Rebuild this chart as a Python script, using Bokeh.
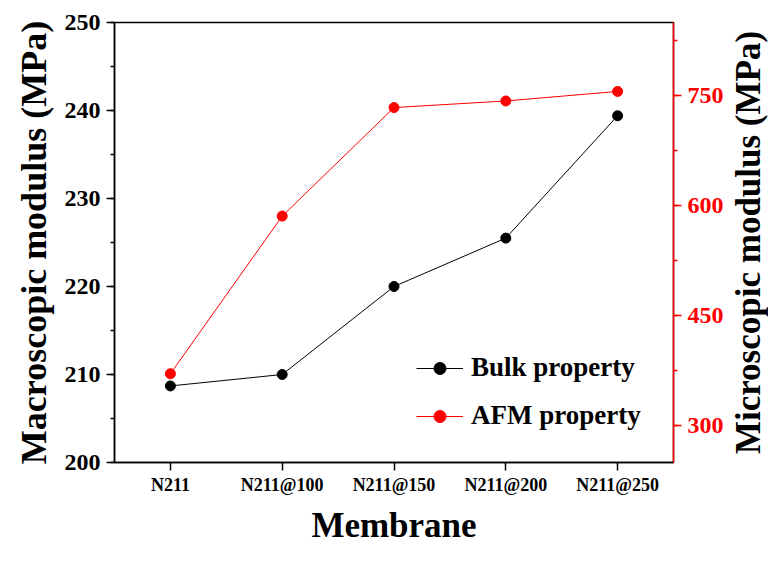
import math
from bokeh.plotting import figure
from bokeh.layouts import row
from bokeh.models import (Range1d, LinearAxis, SingleIntervalTicker, Legend,
                          LegendItem, FactorRange, Title)
from bokeh.embed import file_html
from bokeh.resources import INLINE

membranes = ["N211", "N211@100", "N211@150", "N211@200", "N211@250"]
bulk = [208.7, 210.0, 220.0, 225.5, 239.4]
afm = [371, 586, 734, 743, 756]

FONT = "Liberation Serif"

W, H = 726, 547
ML, MR, MT, MB = 114, 50, 22, 82
p = figure(x_range=FactorRange(*membranes), y_range=Range1d(200, 250),
           width=W, height=H, output_backend="svg", toolbar_location=None,
           title=None,
           min_border_left=ML, min_border_right=MR, min_border_top=MT,
           min_border_bottom=MB)
p.extra_y_ranges = {"right": Range1d(250, 850)}
p.xgrid.visible = False
p.ygrid.visible = False
p.outline_line_color = "black"
p.outline_line_width = 1.5
p.background_fill_color = "white"
p.border_fill_color = "white"

# left axis
ya = p.yaxis[0]
ya.ticker = SingleIntervalTicker(interval=10, num_minor_ticks=2)
ya.axis_label = "Macroscopic modulus (MPa)"

# bottom axis
xa = p.xaxis[0]
xa.axis_label = "Membrane"

for ax in (ya, xa):
    ax.axis_line_width = 1.5
    ax.axis_line_color = "black"
    ax.major_tick_line_width = 1.5
    ax.minor_tick_line_width = 1.5
    ax.major_tick_in = 0
    ax.major_tick_out = 8
    ax.minor_tick_in = 0
    ax.minor_tick_out = 4
    ax.major_label_text_font = FONT
    ax.major_label_text_font_style = "bold"
    ax.axis_label_text_font = FONT
    ax.axis_label_text_font_style = "bold"
    ax.axis_label_text_color = "black"
    ax.major_label_text_color = "black"

ya.major_label_text_font_size = "24px"
ya.axis_label_text_font_size = "36px"
ya.major_label_standoff = 6
ya.axis_label_standoff = 8
xa.major_label_text_font_size = "18px"
xa.axis_label_text_font_size = "35px"
xa.major_label_standoff = 4
xa.axis_label_standoff = 8

# right axis
ra = LinearAxis(y_range_name="right",
                ticker=SingleIntervalTicker(interval=150, num_minor_ticks=2))
ra.axis_line_color = "red"
ra.axis_line_width = 1.5
ra.major_tick_line_color = "red"
ra.minor_tick_line_color = "red"
ra.major_tick_line_width = 1.5
ra.minor_tick_line_width = 1.5
ra.major_tick_in = 0
ra.major_tick_out = 8
ra.minor_tick_in = 0
ra.minor_tick_out = 4
ra.major_label_text_color = "red"
ra.major_label_text_font = FONT
ra.major_label_text_font_style = "bold"
ra.major_label_text_font_size = "24px"
ra.major_label_standoff = 6
p.add_layout(ra, "right")

l1 = p.line(membranes, bulk, line_color="black", line_width=1)
s1 = p.scatter(membranes, bulk, size=10, fill_color="black", line_color="black")
l2 = p.line(membranes, afm, line_color="red", line_width=1, y_range_name="right")
s2 = p.scatter(membranes, afm, size=10, fill_color="red", line_color="red",
               y_range_name="right")

legend = Legend(items=[LegendItem(label="Bulk property", renderers=[l1, s1]),
                       LegendItem(label="AFM property", renderers=[l2, s2])],
                location=(302, 31))
legend.label_text_font = FONT
legend.label_text_font_style = "bold"
legend.label_text_font_size = "27px"
legend.label_text_color = "black"
legend.glyph_width = 47
legend.glyph_height = 30
legend.label_height = 30
legend.label_standoff = 8
legend.spacing = 17
legend.padding = 0
legend.margin = 0
legend.border_line_color = None
legend.background_fill_alpha = 0
p.add_layout(legend)

# right-hand axis title in a narrow side panel, reading bottom-to-top
LW = 42
lab = figure(width=LW, height=H, output_backend="svg", toolbar_location=None,
             title=None, min_border=0, x_axis_location=None,
             y_axis_location=None)
lab.grid.visible = False
lab.outline_line_color = None
lab.background_fill_color = "white"
lab.border_fill_color = "white"
rtitle = Title(text="Microscopic modulus (MPa)", align="center",
               text_font=FONT, text_font_style="bold", text_font_size="35px",
               text_color="black", standoff=0, offset=0)
lab.add_layout(rtitle, "left")

layout = row(p, lab, spacing=0)
open("out.html", "w").write(file_html(layout, INLINE))
